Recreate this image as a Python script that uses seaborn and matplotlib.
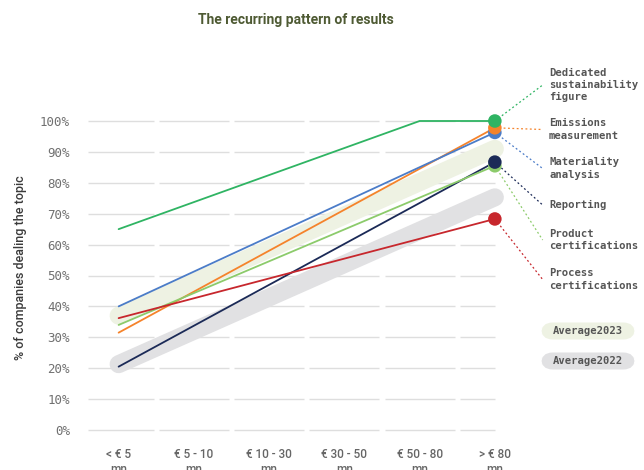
import numpy as np
import pandas as pd
import matplotlib
matplotlib.use("Agg")
import matplotlib.pyplot as plt
from matplotlib.patches import FancyBboxPatch
import seaborn as sns

# ---- data -------------------------------------------------------------
categories = ["< € 5\nmn", "€ 5 - 10\nmn", "€ 10 - 30\nmn",
              "€ 30 - 50\nmn", "€ 50 - 80\nmn", "> € 80\nmn"]

dedicated_figure = [65, None, None, None, 100, 100]
emissions = [31.5, None, None, None, None, 97.8]
materiality = [40, None, None, None, None, 96.3]
reporting = [20.5, None, None, None, None, 86.7]
product_cert = [34, None, None, None, None, 85.5]
process_cert = [36.2, None, None, None, None, 68.3]

average_2023 = [37, None, None, None, None, 91]
average_2022 = [21.3, None, None, None, None, 75.3]

series_names = ["Dedicated\nsustainability\nfigure", "Emissions\nmeasurement",
                "Materiality\nanalysis", "Reporting", "Product\ncertifications",
                "Process\ncertifications"]
series_values = [dedicated_figure, emissions, materiality, reporting,
                 product_cert, process_cert]
series_colors = ["#2fb463", "#f5832b", "#4b7cc8", "#1b2a57", "#8ccb6b", "#c7272d"]
label_y = [85, 129.5, 168.5, 205, 240, 279.5]  # label centres, pixels from top

yticks = list(range(0, 101, 10))

sans = "Roboto"
mono = "DejaVu Sans Mono"

# ---- figure -----------------------------------------------------------
W, H = 644, 470
fig = plt.figure(figsize=(W / 100, H / 100), dpi=100)
sns.set_style("white")
plt.rcParams["font.family"] = ["DejaVu Sans"]

x_lo, x_hi = -0.5, 5.6
y_lo, y_hi = -5, 110
ax_left, ax_right = 81, 540
ax_bottom_px = 430 + 5 * 3.09
ax_top_px = 121 - 10 * 3.09
ax = fig.add_axes([ax_left / W, 1 - ax_bottom_px / H,
                   (ax_right - ax_left) / W, (ax_bottom_px - ax_top_px) / H])
ax.set_xlim(x_lo, x_hi)
ax.set_ylim(y_lo, y_hi)
for s in ax.spines.values():
    s.set_visible(False)

# segmented horizontal grid
gap = 0.035
for yv in yticks:
    for i in range(len(categories)):
        a = -0.41 if i == 0 else i - 0.5 + gap
        b = 5.0 if i == len(categories) - 1 else i + 0.5 - gap
        ax.plot([a, b], [yv, yv], color="#dedede", lw=1.0, zorder=0,
                solid_capstyle="butt")


def frame(values):
    d = pd.DataFrame({"x": np.arange(len(values), dtype=float),
                      "y": pd.Series(values, dtype=float)})
    return d.dropna()


# average bands
for vals, col in [(average_2022, "#e1e1e3"), (average_2023, "#eef2e3")]:
    sns.lineplot(data=frame(vals), x="x", y="y", ax=ax, color=col, lw=13,
                 solid_capstyle="round", zorder=1, legend=False)

# series lines
for vals, col in zip(series_values, series_colors):
    sns.lineplot(data=frame(vals), x="x", y="y", ax=ax, color=col, lw=1.3,
                 zorder=3, legend=False)

# end-point dots (drawn so the topmost values sit on top)
for i in [5, 4, 3, 2, 1, 0]:
    d = frame(series_values[i]).iloc[[-1]]
    sns.scatterplot(data=d, x="x", y="y", ax=ax, color=series_colors[i], s=95,
                    edgecolor="none", zorder=4, legend=False)

# labels with dotted leaders
for i, (name, col) in enumerate(zip(series_names, series_colors)):
    end_y = frame(series_values[i])["y"].iloc[-1]
    ly_data = y_lo + (ax_bottom_px - label_y[i]) / 3.09
    lx = (543 - ax_left) / 75.3 + x_lo
    ax.plot([5.0, lx], [end_y, ly_data], color=col, lw=0.9, ls=(0, (1.5, 2)),
            clip_on=False, zorder=2)
    fig.text(549 / W, 1 - label_y[i] / H, name, family=mono, fontsize=7.6,
             fontweight="bold", color="#555555", va="center", ha="left",
             linespacing=1.3)

# average pills
pill_w, pill_h = 94, 17
for txt, col, yc in [("Average2023", "#eef2e3", 331), ("Average2022", "#e1e1e3", 361)]:
    x0, y0 = 541, H - yc - pill_h / 2
    fig.patches.append(FancyBboxPatch(
        (x0 / W, y0 / H), pill_w / W, pill_h / H,
        boxstyle=f"round,pad=0,rounding_size={pill_h / 2 / H}",
        mutation_aspect=W / H, transform=fig.transFigure, fc=col, ec="none"))
    fig.text((x0 + pill_w / 2) / W, 1 - yc / H, txt, family=mono, fontsize=7.6,
             fontweight="bold", color="#555555", va="center", ha="center")

# axes text
ax.set_yticks(yticks)
ax.set_yticklabels([f"{v}%" for v in yticks], family=mono, fontsize=9,
                   color="#707070")
ax.tick_params(axis="y", length=0, pad=8)
ax.set_xticks(range(len(categories)))
ax.set_xticklabels(categories, family=sans, fontsize=8.5, fontweight="medium",
                   color="#666666", linespacing=1.15)
ax.tick_params(axis="x", length=0, pad=2)
ax.set_xlabel("")
ax.set_ylabel("% of companies dealing the topic", family=sans, fontsize=9,
              fontweight="medium", color="#3a3a3a", labelpad=9)

fig.text(296 / W, 1 - 20 / H, "The recurring pattern of results", family=sans,
         fontsize=10, fontweight="bold", color="#4e5a33", ha="center", va="center")

fig.savefig("out.png", dpi=100)
